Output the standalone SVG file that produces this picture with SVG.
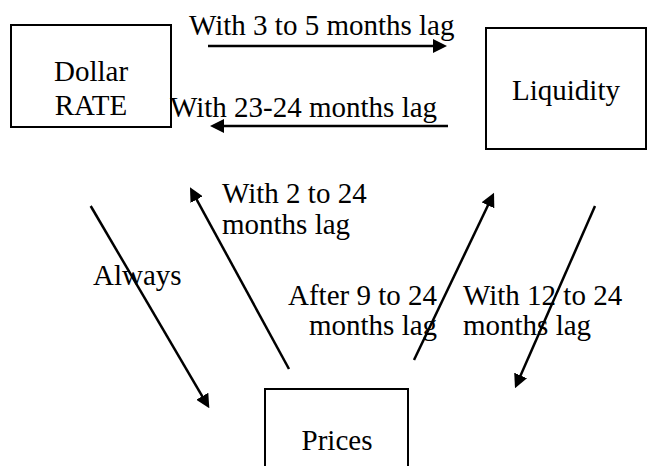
<svg xmlns="http://www.w3.org/2000/svg" width="649" height="466" viewBox="0 0 649 466">
  <style>
    .box { fill: #fff; stroke: #000; stroke-width: 2; }
    text { font-size: 29px; fill: #000; }
    .ctr { text-anchor: middle; }
    .arr { stroke: #000; stroke-width: 2.5; fill: none; marker-end: url(#ah); }
  </style>
  <defs>
    <marker id="ah" viewBox="0 0 14 14" refX="10" refY="7" markerWidth="14" markerHeight="14" markerUnits="userSpaceOnUse" orient="auto">
      <path d="M0,0 L14,7 L0,14 z" fill="#000"/>
    </marker>
  </defs>
  <rect width="649" height="466" fill="#fff"/>
  <g font-family="'Liberation Serif', 'Times New Roman', Times, serif">
  <g id="dollar">
    <rect class="box" x="11" y="25" width="160" height="102"/>
    <text class="ctr" x="91" y="81">Dollar</text>
    <text class="ctr" x="91" y="115">RATE</text>
  </g>
  <g id="liquidity">
    <rect class="box" x="486" y="28" width="160" height="121"/>
    <text class="ctr" x="566" y="100">Liquidity</text>
  </g>
  <g id="prices">
    <rect class="box" x="265" y="389" width="143" height="100"/>
    <text class="ctr" x="337" y="450">Prices</text>
  </g>
  <g id="connectors">
    <path class="arr" d="M208,46 L443,46"/>
    <path class="arr" d="M448,126 L214,126"/>
    <path class="arr" d="M90.7,206 L207.3,404.9"/>
    <path class="arr" d="M289,369 L191.9,190.8"/>
    <path class="arr" d="M414,360 L492.3,196.3"/>
    <path class="arr" d="M595,206 L516.6,384.6"/>
  </g>
  <g id="labels">
    <text x="189" y="35">With 3 to 5 months lag</text>
    <text x="170" y="117">With 23-24 months lag</text>
    <text x="93" y="285">Always</text>
    <text x="222" y="203">With 2 to 24</text>
    <text x="222" y="234">months lag</text>
    <text x="288" y="305">After 9 to 24</text>
    <text x="309" y="335">months lag</text>
    <text x="463" y="305">With 12 to 24</text>
    <text x="463" y="335">months lag</text>
  </g>
  </g>
</svg>
